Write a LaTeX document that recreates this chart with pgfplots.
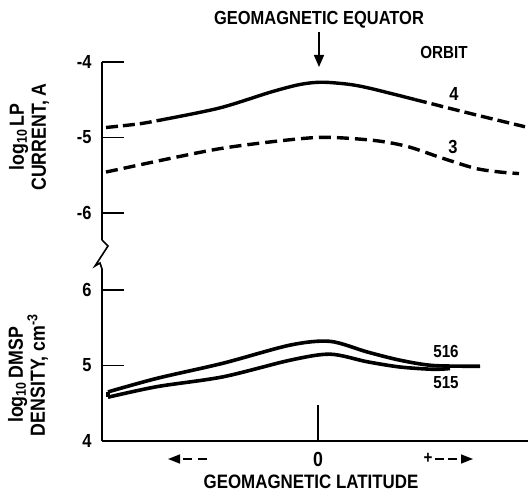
\documentclass[border=0pt]{standalone}
\usepackage{pgfplots}
\pgfplotsset{compat=1.18}
\usepackage{fontspec}
\setmainfont{Liberation Sans}[FakeStretch=0.87]
\usetikzlibrary{arrows.meta}
\newcommand\T{\fontsize{20.5}{22}\selectfont\bfseries}
\newcommand\Ttitle{\fontsize{19}{20}\selectfont\bfseries}
\newcommand\TT{\fontsize{19}{20}\selectfont\bfseries}
\newcommand\TS{\fontsize{17.5}{18}\selectfont\bfseries}
\newcommand\TB{\fontsize{19.5}{20}\selectfont\bfseries}
\begin{document}
\begin{tikzpicture}
\useasboundingbox (0,0) rectangle (528bp,494bp);
\pgfplotsset{
  mystyle/.style={x=1bp, y=75.5bp, xmin=-216, xmax=210, clip=false,
   tick align=inside, major tick length=22bp,
   every tick/.style={black, line width=1.6bp},
   axis line style={black, line width=1.8bp},
   yticklabel style={font=\TT, xshift=-7bp},
   xtick=\empty, scale only axis},
  curve/.style={black, line width=3.4bp, smooth, tension=0.5, no markers},
}
% upper panel: log10 LP current
\begin{axis}[mystyle, at={(102bp,254bp)}, anchor=south west,
  ymin=-6.36, ymax=-4, axis x line=none, axis y line*=left,
  ytick={-6,-5,-4}, yticklabels={-6,-5,-4}]
% orbit 4
\addplot[curve, dash pattern=on 12bp off 5bp] coordinates {
 (-212,-4.87) (-178,-4.82) (-153,-4.76)};
\addplot[curve] coordinates {
 (-153,-4.76) (-98,-4.61) (-47,-4.40) (-18,-4.30) (4,-4.27) (32,-4.30) (55,-4.36) (97,-4.50)};
\addplot[curve, dash pattern=on 12bp off 5bp] coordinates {
 (97,-4.50) (106,-4.53) (157,-4.70) (207,-4.86)};
% orbit 3
\addplot[curve, dash pattern=on 12bp off 6bp] coordinates {
 (-212,-5.46) (-148,-5.28) (-98,-5.15) (-47,-5.06) (4,-5.00) (55,-5.04) (89,-5.12) (123,-5.27) (157,-5.41) (182,-5.46) (201,-5.48)};
\node[font=\TT] at (axis cs:136,-4.43) {4};
\node[font=\TT] at (axis cs:135,-5.13) {3};
\node[font=\TS] at (axis cs:126,-3.88) {ORBIT};
\end{axis}
% lower panel: log10 DMSP density
\begin{axis}[mystyle, at={(102bp,53bp)}, anchor=south west,
  ymin=4, ymax=6.24, axis x line*=bottom, axis y line*=left,
  ytick={4,5,6}, yticklabels={4,5,6}]
% 516
\addplot[curve, line width=3.6bp] coordinates {
 (-210,4.65) (-161,4.83) (-95,5.03) (-28,5.27) (12,5.32) (49,5.18) (82,5.07) (115,5.00) (162,4.99)};
% 515
\addplot[curve, line width=3.6bp] coordinates {
 (-210,4.58) (-161,4.72) (-95,4.85) (-28,5.07) (12,5.15) (49,5.05) (82,4.98) (115,4.95) (132,4.96)};
\addplot[black, line width=3.6bp, no markers] coordinates {(-210,4.58) (-210,4.65)};
\draw[black, line width=1.6bp] (axis cs:0,4) -- (axis cs:0,4.48);
\node[font=\TS] at (axis cs:128,5.18) {516};
\node[font=\TS] at (axis cs:128,4.78) {515};
\end{axis}
% axis break
\draw[black, line width=1.6bp] (102bp,254bp) -- (108bp,248bp) -- (95bp,228bp) -- (100bp,231bp) -- (102bp,225bp) -- (102bp,222bp);
% texts and arrows
\node[font=\Ttitle] at (319bp,474bp) {GEOMAGNETIC EQUATOR};
\draw[black, line width=1.6bp, -{Triangle[length=12bp,width=10bp]}] (319bp,462bp) -- (319bp,427bp);
\node[font=\T, rotate=90, align=center] at (29bp,357bp) {log\textsubscript{10}\,LP\\CURRENT, A};
\node[font=\T, rotate=90, align=center] at (28bp,119bp) {log\textsubscript{10}\,DMSP\\DENSITY, cm\textsuperscript{-3}};
\node[font=\T] at (318bp,35bp) {0};
\draw[black, line width=1.6bp, dash pattern=on 9bp off 6bp, -{Triangle[length=12bp,width=9bp]}] (207bp,35bp) -- (168bp,35bp);
\node[font=\TS] at (428bp,36bp) {+};
\draw[black, line width=1.6bp, dash pattern=on 9bp off 4bp, -{Triangle[length=12bp,width=9bp]}] (435bp,35bp) -- (473bp,35bp);
\node[font=\TB] at (311bp,12bp) {GEOMAGNETIC LATITUDE};
\end{tikzpicture}
\end{document}
